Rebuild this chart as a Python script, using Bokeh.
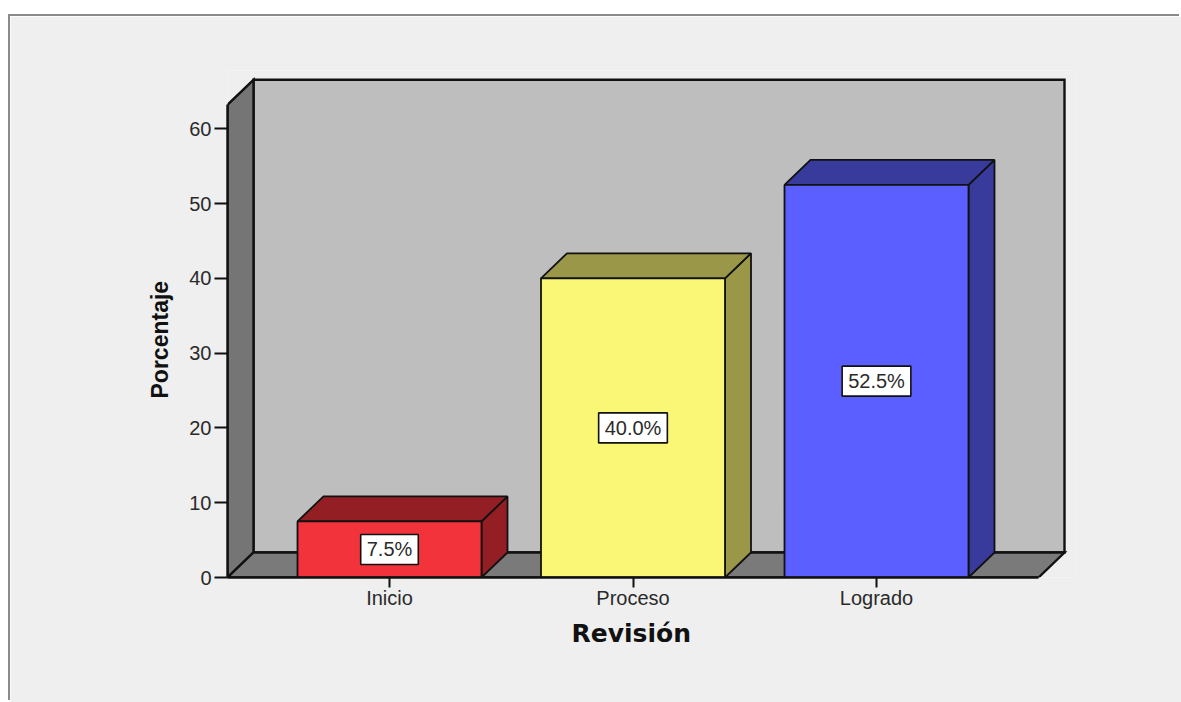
from bokeh.plotting import figure
from bokeh.models import FixedTicker, Range1d, ColumnDataSource, Title
from bokeh.embed import file_html
from bokeh.resources import INLINE

categories = ["Inicio", "Proceso", "Logrado"]
values = [7.5, 40.0, 52.5]
value_labels = ["7.5%", "40.0%", "52.5%"]
y_ticks = [0, 10, 20, 30, 40, 50, 60]
front_colors = ["#f2333b", "#fbf776", "#5c5fff"]
dark_colors = ["#931f24", "#9a9748", "#383a9c"]

positions = [1, 2, 3]
PX_X = 243.5      # pixels per category
PX_Y = 7.48       # pixels per percent
X0 = 1 - 162 / PX_X
X_FRONT_END = 3 + 162 / PX_X
DX = 26 / PX_X    # oblique depth
DY = 25 / PX_Y
BAR_W = 184 / PX_X
Y_FRONT_TOP = 63.2

p = figure(width=1171, height=686, output_backend="svg", toolbar_location=None,
           frame_width=848, frame_height=507,
           min_border_left=217, min_border_right=106, min_border_top=54, min_border_bottom=125,
           x_range=Range1d(X0, X0 + 848 / PX_X), y_range=Range1d(0, 507 / PX_Y))
p.margin = (16, 0, 0, 10)
p.styles = {"box-shadow": "-2px -2px 0 0 #8a8a8a"}
p.border_fill_color = "#efefef"
p.background_fill_color = "#efefef"
p.outline_line_color = None
p.grid.visible = False

LINE = dict(line_color="#111111", line_width=2.4, line_join="miter")
# back wall, left wall, floor
p.quad(left=[X0 + DX], right=[X_FRONT_END + DX], bottom=[DY], top=[Y_FRONT_TOP + DY],
       fill_color="#bebebe", **LINE)
p.patch([X0, X0 + DX, X0 + DX, X0], [0, DY, Y_FRONT_TOP + DY, Y_FRONT_TOP],
        fill_color="#757575", **LINE)
p.patch([X0, X0 + DX, X_FRONT_END + DX, X_FRONT_END], [0, DY, DY, 0],
        fill_color="#7a7a7a", **LINE)

# bars
lefts = [c - BAR_W / 2 for c in positions]
rights = [c + BAR_W / 2 for c in positions]
p.patches([[r, r + DX, r + DX, r] for r in rights],
          [[0, DY, v + DY, v] for v in values],
          fill_color=dark_colors, line_color="#111111", line_width=1.8)
p.patches([[l, l + DX, r + DX, r] for l, r in zip(lefts, rights)],
          [[v, v + DY, v + DY, v] for v in values],
          fill_color=dark_colors, line_color="#111111", line_width=1.8)
p.vbar(x=positions, top=values, bottom=0, width=BAR_W, fill_color=front_colors,
       line_color="#111111", line_width=1.8)

src = ColumnDataSource(dict(x=positions, y=[v / 2 for v in values], t=value_labels))
p.text(x="x", y="y", text="t", source=src, text_align="center", text_baseline="middle",
       text_font={"value": "Liberation Sans"}, text_font_size="20px", text_color="#2a2a2a",
       background_fill_color="white", border_line_color="#111111", border_line_width=1.6,
       padding=(6, 4))

# axes
xa = p.xaxis[0]
xa.ticker = FixedTicker(ticks=positions)
xa.major_label_overrides = {c: n for c, n in zip(positions, categories)}
xa.bounds = (X0, X_FRONT_END)
xa.major_tick_out = 10
xa.major_tick_in = 0
xa.minor_tick_line_color = None
xa.major_label_standoff = -1

ya = p.yaxis[0]
ya.ticker = FixedTicker(ticks=y_ticks)
ya.bounds = (0, Y_FRONT_TOP)
ya.major_tick_out = 13
ya.major_tick_in = 0
ya.minor_tick_line_color = None
ya.major_label_standoff = 3

for a in (xa, ya):
    a.axis_line_color = "#111111"
    a.axis_line_width = 2.4
    a.major_tick_line_color = "#111111"
    a.major_tick_line_width = 2
    a.major_label_text_font = "Liberation Sans"
    a.major_label_text_font_size = "20px"
    a.major_label_text_color = "#2a2a2a"

# axis titles sit centred on the drawn axis lines, not on the plot frame
p.add_layout(Title(text="Revisión", align="left", offset=344, standoff=10,
                   text_font="DejaVu Sans", text_font_style="bold", text_font_size="25px",
                   text_color="#111111"), "below")
p.add_layout(Title(text="Porcentaje", align="left", offset=179, standoff=27,
                   text_font="Liberation Sans", text_font_style="bold", text_font_size="23px",
                   text_color="#111111"), "left")

open("out.html", "w").write(file_html(p, INLINE))
